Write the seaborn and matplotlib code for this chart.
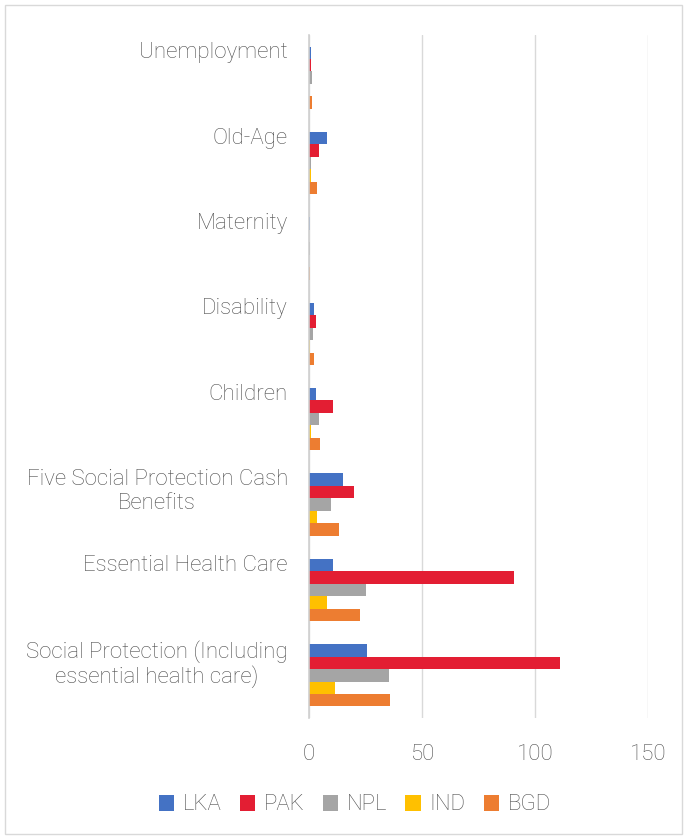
import matplotlib
matplotlib.use("Agg")
import matplotlib.pyplot as plt
import seaborn as sns
import pandas as pd
from matplotlib.patches import Rectangle, Patch

categories = ["Unemployment", "Old-Age", "Maternity", "Disability", "Children",
              "Five Social Protection Cash\nBenefits", "Essential Health Care",
              "Social Protection (Including\nessential health care)"]
countries = ["LKA", "PAK", "NPL", "IND", "BGD"]
LKA = [0.8, 8.0, 0.3, 2.2, 3.3, 14.9, 10.5, 25.8]
PAK = [0.7, 4.4, 0.2, 3.1, 10.6, 19.8, 90.7, 111.0]
NPL = [1.3, 1.0, 0.4, 1.7, 4.4, 9.7, 25.1, 35.4]
IND = [0.2, 1.0, 0.1, 0.3, 1.1, 3.4, 7.8, 11.4]
BGD = [1.2, 3.5, 0.4, 2.2, 4.9, 13.3, 22.6, 36.0]
colors = ["#4472C4", "#E31E33", "#A5A5A5", "#FFC000", "#ED7D31"]
xticks = [0, 50, 100, 150]

series = {"LKA": LKA, "PAK": PAK, "NPL": NPL, "IND": IND, "BGD": BGD}
rows = []
for c in countries:
    for cat, v in zip(categories, series[c]):
        rows.append({"category": cat, "country": c, "value": v})
df = pd.DataFrame(rows)

sns.set_theme(style="white")
plt.rcParams["font.family"] = ["Roboto", "DejaVu Sans"]
plt.rcParams["font.weight"] = "light"
txt = "#4F4F4F"

fig = plt.figure(figsize=(6.87, 8.39), dpi=100)
ax = fig.add_axes([309/687, 1-718/839, (648-309)/687, (718-35)/839])

sns.barplot(data=df, y="category", x="value", hue="country", order=categories,
            hue_order=countries, palette=colors, orient="h", width=0.73,
            linewidth=0, saturation=1, ax=ax, legend=False)

ax.set_xlim(0, 150)
ax.set_xticks(xticks)
ax.set_xticklabels([str(t) for t in xticks], fontsize=16, color=txt, fontweight="light")
ax.tick_params(axis="x", length=4, color="#D9D9D9", width=1, pad=15)
ax.grid(axis="x", color="#D9D9D9", linewidth=1)
ax.set_axisbelow(True)
for s in ["top", "right", "bottom"]:
    ax.spines[s].set_visible(False)
ax.spines["left"].set_color("#D0D0D0")
ax.spines["left"].set_linewidth(1.2)
ax.set_ylabel("")
ax.set_xlabel("")
ax.set_yticks([])
ax.set_yticklabels([])

for i, cat in enumerate(categories):
    ax.text(-0.062, i - 0.365 - 0.05, cat, transform=ax.get_yaxis_transform(),
            ha="right", va="top", multialignment="center", fontsize=16,
            color=txt, linespacing=1.15, fontweight="light")

handles = [Patch(facecolor=col, edgecolor="none") for col in colors]
leg = fig.legend(handles, countries, loc="center", bbox_to_anchor=(355/687, 1-805/839),
                 ncol=5, frameon=False, handlelength=0.7,
                 handleheight=0.7, handletextpad=0.4, columnspacing=0.8,
                 prop={"weight": "light", "size": 16})
for t in leg.get_texts():
    t.set_color(txt)

fig.patches.append(Rectangle((5/687, 5/839), 677/687, 829/839, transform=fig.transFigure,
                             fill=False, edgecolor="#D9D9D9", linewidth=1))

fig.savefig("out.png", dpi=100)
